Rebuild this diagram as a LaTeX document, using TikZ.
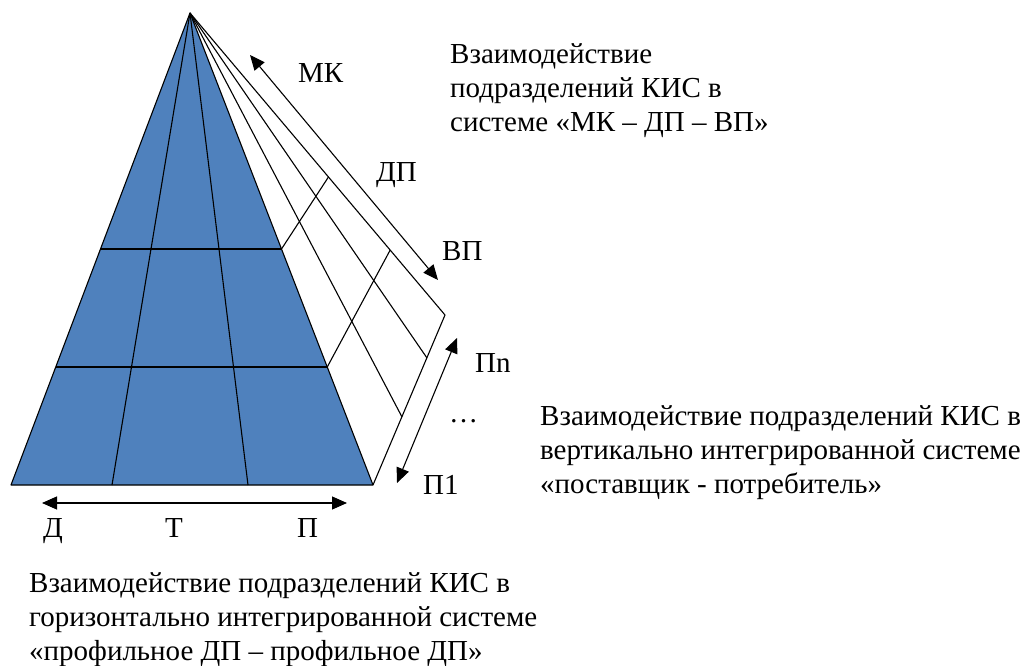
\documentclass[tikz,border=0pt]{standalone}
\usepackage{fontspec}
\setmainfont{Liberation Serif}
\usetikzlibrary{calc,arrows.meta}
\definecolor{faceblue}{HTML}{4F81BD}
\begin{document}
\begin{tikzpicture}[x=1pt,y=-1pt,
  edge/.style={draw=black,line width=1.1pt,line join=round},
  dblarrow/.style={line width=1.1pt,{Triangle[length=15pt,width=13pt]}-{Triangle[length=15pt,width=13pt]}},
  lbl/.style={inner sep=0pt,anchor=base west,font=\fontsize{29}{34}\selectfont},
  block/.style={inner sep=0pt,anchor=north west,align=left,font=\fontsize{29}{34}\selectfont}]
\useasboundingbox (0,0) rectangle (1028,666);

% pyramid corners
\coordinate (A) at (190,13);
\coordinate (L) at (11,485);
\coordinate (R) at (373,485);
\coordinate (B) at (445,315);
% division points on the front base and on the side base
\coordinate (F1) at (112,485);
\coordinate (F2) at (248,485);
\coordinate (S1) at (402,417);
\coordinate (S2) at (427,358);

% front face
\fill[faceblue] (A) -- (L) -- (R) -- cycle;
\draw[edge] (A) -- (L) -- (R) -- cycle;
\draw[edge] (A) -- (F1);
\draw[edge] (A) -- (F2);
\draw[edge] ($(A)!0.5!(L)$) -- ($(A)!0.5!(R)$);
\draw[edge] ($(A)!0.75!(L)$) -- ($(A)!0.75!(R)$);

% side face
\draw[edge] (A) -- (B) -- (R);
\draw[edge] (A) -- (S1);
\draw[edge] (A) -- (S2);
\draw[edge] ($(A)!0.5!(R)$) -- ($(A)!0.543!(B)$);
\draw[edge] ($(A)!0.75!(R)$) -- ($(A)!0.785!(B)$);

% arrows
\coordinate (mk1) at (250,55);
\coordinate (mk2) at (438,280);
\draw[dblarrow] (mk1) -- (mk2);
\coordinate (pn1) at (457,338);
\coordinate (pn2) at (397,483);
\draw[dblarrow] (pn1) -- (pn2);
\coordinate (dp1) at (42,503);
\coordinate (dp2) at (347,503);
\draw[dblarrow] (dp1) -- (dp2);

% level labels
\node[lbl] (tMK) at (298,83) {МК};
\node[lbl] (tDP) at (376,181) {ДП};
\node[lbl] (tVP) at (442,260) {ВП};
\node[lbl] (tPn) at (475,372) {Пn};
\node[lbl] (tDots) at (449,422) {…};
\node[lbl] (tP1) at (423,494) {П1};
\node[lbl] (tD) at (43,537) {Д};
\node[lbl] (tT) at (165,537) {Т};
\node[lbl] (tP) at (297,537) {П};

% descriptions
\node[block] (topText) at (450,40) {\strut Взаимодействие\\подразделений КИС в\\системе «МК – ДП – ВП»};
\node[block] (rightText) at (540,401) {\strut Взаимодействие подразделений КИС в\\вертикально интегрированной системе\\«поставщик - потребитель»};
\node[block] (bottomText) at (29,568) {\strut Взаимодействие подразделений КИС в\\горизонтально интегрированной системе\\«профильное ДП – профильное ДП»};
\end{tikzpicture}
\end{document}
